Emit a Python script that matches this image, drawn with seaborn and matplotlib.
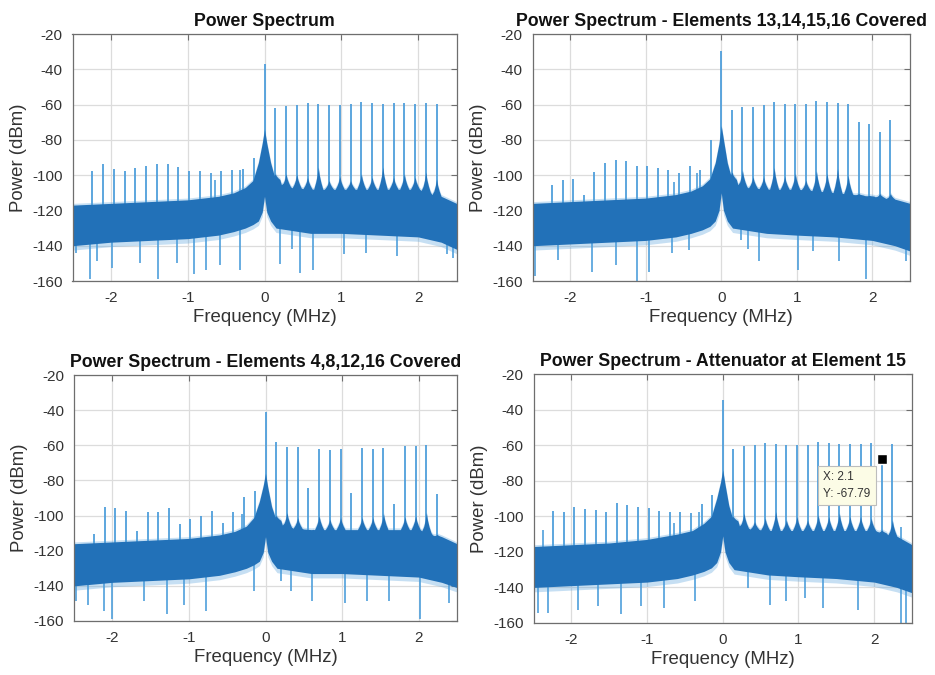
import numpy as np
import matplotlib
matplotlib.use("Agg")
import matplotlib.pyplot as plt
import seaborn as sns

# ---------------------------------------------------------------- data
# Tone grid: 16 element tones on each side of the carrier, 0.14 MHz apart
tone_step = 0.14
tone_idx = list(range(-16, 0)) + list(range(1, 17))

titles = [
    "Power Spectrum",
    "Power Spectrum - Elements 13,14,15,16 Covered",
    "Power Spectrum - Elements 4,8,12,16 Covered",
    "Power Spectrum - Attenuator at Element 15",
]

# Carrier peak level (dBm)
carrier_peak = [-37.2, -29.4, -40.8, -34.8]

# Tone peaks, negative side (k = -16 .. -1)
neg_peaks = [
    [-97.9, -93.6, -96.8, -97.9, -96.0, -94.9, -93.9, -93.6, -95.5, -97.7, -97.4, -98.7, -97.7, -97.0, -96.4, -90.3],
    [-105.4, -102.9, -102.2, -111.5, -98.0, -93.1, -91.6, -91.9, -95.0, -95.0, -95.7, -97.2, -98.8, -95.0, -96.9, -79.8],
    [-110.7, -95.1, -95.8, -97.4, -108.7, -98.1, -97.7, -95.8, -104.6, -102.1, -100.0, -97.4, -104.0, -98.1, -89.4, -86.0],
    [-96.8, -97.4, -94.6, -96.1, -96.4, -97.4, -92.7, -93.6, -95.0, -95.5, -96.8, -97.4, -97.4, -97.9, -93.1, -88.0],
]

# Tone peaks, positive side (k = 1 .. 16)
pos_peaks = [
    [-62.2, -60.9, -60.3, -59.0, -59.4, -60.5, -60.5, -59.8, -58.4, -59.0, -59.4, -59.0, -59.0, -59.4, -59.0, -59.4],
    [-63.1, -61.2, -61.6, -60.3, -58.8, -59.7, -59.7, -59.7, -57.8, -58.6, -59.0, -59.4, -69.8, -71.1, -75.4, -68.8],
    [-58.4, -60.9, -60.9, -84.1, -62.2, -62.8, -62.2, -86.9, -61.7, -62.0, -61.3, -93.6, -60.5, -60.5, -59.8, -87.9],
    [-62.4, -60.6, -60.2, -58.7, -59.1, -60.0, -60.0, -60.0, -58.1, -58.7, -59.1, -59.1, -59.1, -58.7, -67.79, -59.4],
]

# Spurious lines that do not sit on the tone grid
spur_f = [
    [-0.65, -0.32],
    [-0.63, -0.32],
    [-0.31],
    [-2.37, -0.65, -0.32, 2.36],
]
spur_db = [
    [-103.0, -97.0],
    [-103.9, -98.8],
    [-99.3],
    [-107.7, -103.9, -97.4, -105.8],
]

# Noise skirt around each positive-side tone (top of the bump, dBm)
bump_top = [
    [-99.3, -99.3, -99.6, -101.2, -95.5, -103.1, -100.8, -103.1, -99.3, -101.2, -95.5, -101.2, -99.3, -101.2, -98.3, -102.1],
    [-98.2, -97.3, -101.0, -101.0, -95.7, -100.7, -99.1, -102.9, -97.6, -99.1, -96.3, -100.1, -110.5, -111.5, -110.5, -110.5],
    [-100.0, -98.3, -101.2, -108.8, -100.2, -102.1, -101.2, -110.7, -101.2, -101.2, -98.9, -108.8, -100.8, -100.2, -98.3, -110.7],
    [-100.2, -98.3, -103.0, -101.1, -97.4, -102.1, -100.2, -102.1, -99.3, -100.2, -98.3, -100.2, -100.2, -101.1, -107.7, -102.1],
]

# Noise floor envelope (upper / lower edge of the dense trace)
floor_f = [-2.5, -2.0, -1.5, -1.0, -0.6, -0.4, -0.25, -0.15, -0.08, -0.03, 0.0,
           0.03, 0.08, 0.15, 0.3, 0.6, 1.0, 1.5, 2.0, 2.3, 2.5]
floor_hi = [
    [-117, -116, -115, -114, -112, -110, -107, -103, -93, -82, -74, -82, -93, -104, -107, -108, -108, -108, -108, -113, -116],
    [-116, -115, -114, -113, -111, -109, -106, -102, -93, -82, -72, -80, -93, -104, -107, -108, -108, -110, -112, -114, -116],
    [-116, -115, -114, -113, -111, -109, -106, -101, -92, -83, -76, -84, -95, -104, -107, -108, -108, -108, -108, -113, -116],
    [-117, -116, -115, -113, -110, -108, -104, -100, -90, -81, -74, -82, -94, -104, -107, -108, -108, -108, -108, -112, -116],
]
floor_lo = [
    [-140, -138, -137, -136, -134, -132, -130, -128, -126, -121, -112, -121, -126, -130, -131, -133, -133, -134, -135, -138, -142],
    [-140, -139, -138, -137, -135, -133, -131, -129, -126, -120, -110, -120, -126, -130, -131, -133, -134, -135, -137, -140, -143],
    [-140, -138, -137, -136, -134, -132, -130, -128, -126, -121, -112, -121, -126, -130, -131, -133, -133, -134, -135, -138, -141],
    [-140, -139, -138, -137, -135, -133, -131, -129, -126, -120, -111, -120, -126, -130, -131, -133, -134, -135, -137, -140, -143],
]

# Deep nulls below the noise floor
null_f = [
    [-2.46, -2.27, -2.18, -1.98, -1.62, -1.39, -1.14, -0.92, -0.76, -0.58, -0.32, 0.20, 0.36, 0.46, 0.63, 1.03, 1.32, 1.72, 2.37, 2.46],
    [-2.47, -2.16, -1.71, -1.40, -1.12, -0.96, -0.65, -0.43, 0.26, 0.35, 0.50, 1.01, 1.21, 1.56, 1.92, 2.45],
    [-2.48, -2.32, -2.11, -2.00, -1.59, -1.28, -1.07, -0.78, -0.15, 0.20, 0.33, 0.61, 1.04, 1.33, 1.61, 2.02, 2.39],
    [-2.44, -2.31, -1.91, -1.65, -1.34, -1.08, -0.77, -0.37, 0.33, 0.62, 0.84, 1.08, 1.32, 1.79, 2.35, 2.42],
]
null_db = [
    [-144, -159, -148.6, -152.8, -150, -159, -150, -156, -154, -151, -154, -150.6, -142, -155.3, -154, -144.8, -144, -146, -144.5, -146.7],
    [-157, -148, -155, -151, -159.8, -155, -144, -142.7, -137, -141.8, -148.4, -154, -143, -148.4, -158.8, -148.4],
    [-148.6, -151, -154.3, -159, -148.6, -156.2, -151, -154.3, -143, -137.3, -143, -148.6, -149.6, -148.6, -148.6, -159, -149.6],
    [-154.4, -154.4, -152.6, -150.7, -155, -150.7, -151.7, -147.9, -140.5, -149.7, -147.9, -146, -151.6, -152.5, -160, -160],
]

# Data tip on panel 4
tip_x, tip_y = 2.1, -67.79

# ---------------------------------------------------------------- style
sns.set_theme(style="whitegrid")
plt.rcParams["font.family"] = ["Liberation Sans", "DejaVu Sans"]
plt.rcParams["axes.unicode_minus"] = False

SPIKE = "#4f9fdb"
BAND = "#2271b8"
FRINGE = "#5da5dd"

W, H = 935, 675
fig = plt.figure(figsize=(W / 100, H / 100), dpi=100)

# axes boxes in pixels: (left, right, top, bottom)
boxes = [
    (72.5, 456.5, 34, 281),
    (532.5, 910, 34, 281),
    (74, 457, 375, 621),
    (533.5, 912, 374, 623),
]

# shape of the skirt around a tone: offsets (MHz) and relative height
SKIRT_OFF = np.array([-0.06, -0.035, -0.015, 0.0, 0.015, 0.035, 0.06])
SKIRT_WT = np.array([0.0, 0.3, 0.62, 1.0, 0.62, 0.3, 0.0])


def raised_edge(x, centers, tops, hi_vals):
    """Upper edge of the floor raised by the skirt around each tone."""
    y = np.interp(x, floor_f, hi_vals)
    for c, t in zip(centers, tops):
        b = np.interp(c, floor_f, hi_vals)
        prof = np.interp(x, c + SKIRT_OFF, b + SKIRT_WT * (t - b), left=-999, right=-999)
        y = np.maximum(y, prof)
    return y


for i, (l, r, t, b) in enumerate(boxes):
    ax = fig.add_axes([l / W, 1 - b / H, (r - l) / W, (b - t) / H])

    tones = np.array(tone_idx) * tone_step
    pos_tones = tones[tones > 0]
    peaks = np.array(neg_peaks[i] + pos_peaks[i])

    # dense noise floor drawn as a filled band
    skirt_x = np.concatenate([c + SKIRT_OFF for c in pos_tones])
    x = np.unique(np.concatenate([np.array(floor_f), skirt_x]))
    lo = np.interp(x, floor_f, floor_lo[i])
    hi = raised_edge(x, pos_tones, bump_top[i], floor_hi[i])

    ax.fill_between(x, lo - 2.5, hi + 1.0, color=FRINGE, alpha=0.35, lw=0, zorder=2)
    ax.fill_between(x, lo, hi, color=BAND, lw=0, zorder=3)

    # deep nulls
    ax.vlines(null_f[i], np.interp(null_f[i], floor_f, floor_lo[i]) + 5, null_db[i],
              color=SPIKE, lw=1.2, zorder=2.5)

    # tones, carrier and spurs
    ax.vlines(tones, np.interp(tones, floor_f, floor_hi[i]) - 5, peaks,
              color=SPIKE, lw=1.3, zorder=2.5)
    ax.vlines([0.0], -90, carrier_peak[i], color=SPIKE, lw=1.3, zorder=2.5)
    ax.vlines(spur_f[i], np.interp(spur_f[i], floor_f, floor_hi[i]) - 5, spur_db[i],
              color=SPIKE, lw=1.2, zorder=2.5)

    ax.set_xlim(-2.5, 2.5)
    ax.set_ylim(-160, -20)
    ax.set_xticks([-2, -1, 0, 1, 2])
    ax.set_yticks(np.arange(-160, -19, 20))
    ax.grid(True, color="#dcdcdc", lw=0.9)
    ax.set_axisbelow(True)
    ax.set_facecolor("white")
    for s in ax.spines.values():
        s.set_visible(True)
        s.set_color("#6e6e6e")
        s.set_linewidth(0.9)
        s.set_zorder(5)
    ax.tick_params(direction="in", length=4, width=0.8, color="#6e6e6e",
                   top=True, right=True, labelsize=11, labelcolor="#333333", pad=7)
    ax.set_xlabel("Frequency (MHz)", fontsize=13.4, color="#333333", labelpad=3)
    ax.set_ylabel("Power (dBm)", fontsize=13.4, color="#333333", labelpad=4)
    ax.set_title(titles[i], fontsize=12.8, fontweight="bold", color="#111111", pad=6)

    if i == 3:
        ax.plot([tip_x], [tip_y], marker="s", ms=7, mfc="black", mec="white",
                mew=1.0, zorder=6, ls="none")
        ax.annotate(f"X: {tip_x:g}\nY: {tip_y:.2f}", xy=(tip_x, tip_y),
                    xytext=(-8, -9), textcoords="offset points", ha="right", va="top",
                    multialignment="left",
                    fontsize=8.5, color="#333333", linespacing=1.5, zorder=7,
                    bbox=dict(boxstyle="square,pad=0.45", fc="#fcfce6", ec="#bdbdbd", lw=0.8))

fig.savefig("out.png", dpi=100, facecolor="white")
